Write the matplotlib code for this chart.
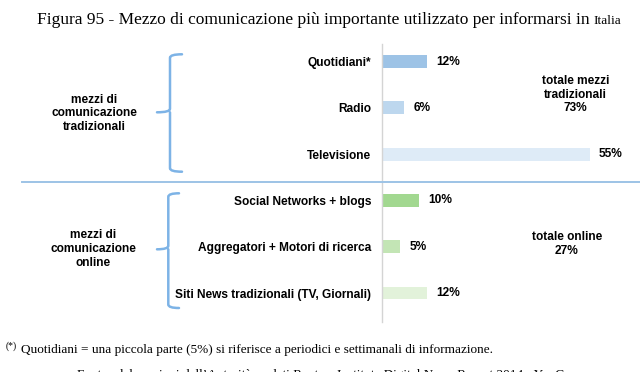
import matplotlib
matplotlib.use("Agg")
import matplotlib.pyplot as plt
from matplotlib.path import Path
from matplotlib.patches import PathPatch
from matplotlib.lines import Line2D

# ---- data ----
categories = ["Quotidiani*", "Radio", "Televisione",
              "Social Networks + blogs", "Aggregatori + Motori di ricerca",
              "Siti News tradizionali (TV, Giornali)"]
values = [12, 6, 55, 10, 5, 12]
value_labels = ["12%", "6%", "55%", "10%", "5%", "12%"]
bar_colors = ["#9DC3E6", "#BDD7EE", "#DEEBF7", "#A2D890", "#C3E5B5", "#E2F2DA"]
group_labels = ["mezzi di\ncomunicazione\ntradizionali", "mezzi di\ncomunicazione\nonline"]
total_labels = ["totale mezzi\ntradizionali\n73%", "totale online\n27%"]
title_main = "Figura 95 - Mezzo di comunicazione più importante utilizzato per informarsi in "
title_small = "Italia"
footnote = "Quotidiani = una piccola parte (5%) si riferisce a periodici e settimanali di informazione."
source = "Fonte: elaborazioni dell\u2019Autorità su dati Reuters Institute Digital News Report 2014 - YouGov"

W, H = 640, 372
fig = plt.figure(figsize=(6.4, 3.72), dpi=100)
fig.patch.set_facecolor("white")

def fx(px):
    return px / W

def fy(py):
    return 1 - py / H

SANS = ["Liberation Sans", "DejaVu Sans"]
SERIF = ["Liberation Serif", "DejaVu Serif"]

# ---- bar axes ----
ax = fig.add_axes([fx(381.5), fy(322), 1 - fx(381.5), fy(44) - fy(322)])
ypos = list(range(len(categories)))
ax.barh(ypos, values, height=0.28, color=bar_colors, edgecolor="none")
ax.set_xlim(0, (W - 381.5) / 3.79)
ax.set_ylim(5.626, -0.378)
for s in ["top", "right", "bottom"]:
    ax.spines[s].set_visible(False)
ax.spines["left"].set_color("#D4D4D4")
ax.spines["left"].set_linewidth(1.0)
ax.set_xticks([])
ax.set_yticks(ypos)
ax.set_yticklabels(categories, fontfamily=SANS, fontweight="bold", fontsize=8.6)
ax.tick_params(axis="y", length=0, pad=7.5)
ax.patch.set_alpha(0)
for y, v, lab in zip(ypos, values, value_labels):
    ax.annotate(lab, (v, y), xytext=(6.5, 0), textcoords="offset points",
                va="center", ha="left", fontfamily=SANS, fontweight="bold", fontsize=8.6)

# ---- separator line ----
fig.add_artist(Line2D([fx(22), 1.0], [fy(181.7), fy(181.7)], color="#9DC3E6", lw=1.4))

# ---- braces ----
def brace(x_vert, x_end, x_tip, y_top, y_mid, y_bot):
    r = 3.5
    verts = [
        (x_end, y_top), (x_vert, y_top), (x_vert, y_top + r),
        (x_vert, y_mid - r), (x_vert, y_mid), (x_tip, y_mid),
        (x_vert, y_mid), (x_vert, y_mid + r),
        (x_vert, y_bot - r), (x_vert, y_bot), (x_end, y_bot),
    ]
    codes = [Path.MOVETO, Path.CURVE3, Path.CURVE3,
             Path.LINETO, Path.CURVE3, Path.CURVE3,
             Path.MOVETO, Path.CURVE3,
             Path.LINETO, Path.CURVE3, Path.CURVE3]
    verts = [(fx(a), fy(b)) for a, b in verts]
    p = PathPatch(Path(verts, codes), transform=fig.transFigure, fill=False,
                  edgecolor="#7DB3E6", lw=1.8, capstyle="round")
    fig.add_artist(p)

brace(170, 182, 157, 54.3, 112.3, 171.7)
brace(168.3, 179, 157, 193.3, 249.3, 308)

# ---- group labels ----
fig.text(fx(94), fy(113.5), group_labels[0], ha="center", va="center", fontfamily=SANS,
         fontweight="bold", fontsize=8.6, linespacing=1.2)
fig.text(fx(93), fy(249), group_labels[1], ha="center", va="center", fontfamily=SANS,
         fontweight="bold", fontsize=8.6, linespacing=1.2)

# ---- totals ----
fig.text(fx(575.5), fy(94.5), total_labels[0], ha="center", va="center", fontfamily=SANS,
         fontweight="bold", fontsize=8.6, linespacing=1.2)
fig.text(fx(567), fy(244), total_labels[1], ha="center", va="center", fontfamily=SANS,
         fontweight="bold", fontsize=8.6, linespacing=1.2)

# ---- title ----
t1 = fig.text(fx(37), fy(24), title_main, ha="left", va="baseline", fontfamily=SERIF, fontsize=12.5)
fig.canvas.draw()
bb = t1.get_window_extent()
fig.text(bb.x1 / W, fy(24), title_small, ha="left", va="baseline", fontfamily=SERIF, fontsize=9.6)

# ---- footnote / source ----
fig.text(fx(6), fy(349), "(*)", ha="left", va="baseline", fontfamily=SERIF, fontsize=7)
fig.text(fx(21), fy(353), footnote, ha="left", va="baseline", fontfamily=SERIF, fontsize=9.5)
fig.text(fx(77), fy(378), source, ha="left", va="baseline", fontfamily=SERIF, fontsize=9.5)

fig.savefig("out.png", dpi=100, facecolor="white")
